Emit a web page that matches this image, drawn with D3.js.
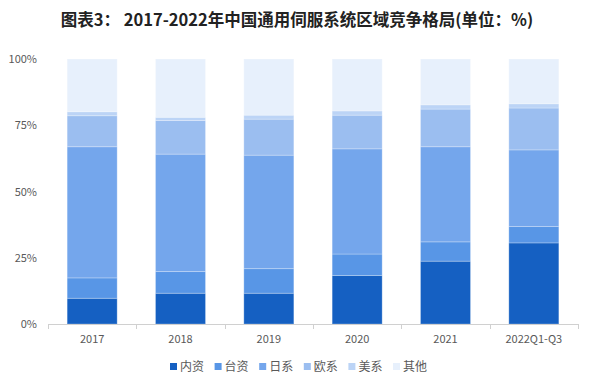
<!DOCTYPE html>
<html><head><meta charset="utf-8">
<script src="https://cdn.jsdelivr.net/npm/d3@7"></script>
<style>body{margin:0;background:#fff;}svg{display:block;font-family:"Microsoft YaHei","Noto Sans CJK SC",sans-serif;}</style>
</head><body><svg id="c" width="593" height="382"></svg>
<script>
const categories = ["2017","2018","2019","2020","2021","2022Q1-Q3"];
const seriesNames = ["内资","台资","日系","欧系","美系","其他"];
const neizi  = [9.7, 11.6, 11.6, 18.3, 23.7, 30.6];
const taizi  = [7.7, 8.2, 9.3, 8.1, 7.3, 6.2];
const rixi   = [49.5, 44.3, 42.8, 39.7, 35.9, 28.9];
const ouxi   = [11.7, 12.7, 13.6, 12.7, 14.2, 15.8];
const meixi  = [1.5, 1.2, 1.5, 1.6, 1.6, 1.6];
const qita   = [19.9, 22.0, 21.2, 19.6, 17.3, 16.9];
const yTicks = [0, 25, 50, 75, 100];
const colors = ["#1560c2","#5896e6","#74a6ec","#9bbef0","#bcd4f6","#e7f0fc"];

const seriesVals = [neizi, taizi, rixi, ouxi, meixi, qita];
const rows = categories.map((c,i)=>{const r={cat:c}; seriesNames.forEach((s,j)=>r[s]=seriesVals[j][i]); return r;});
const stack = d3.stack().keys(seriesNames)(rows);

const svg = d3.select("#c");
const x = d3.scaleBand().domain(categories).range([48,578]).paddingInner(0.434).paddingOuter(0.217);
const y = d3.scaleLinear().domain([0,100]).range([324,59]);

svg.append("text").attr("x",297).attr("y",26).attr("text-anchor","middle")
  .attr("font-size",16.5).attr("font-weight","bold").attr("fill","#222")
  .text("图表3： 2017-2022年中国通用伺服系统区域竞争格局(单位：%)");

const g = svg.append("g");
stack.forEach((layer,j)=>{
  g.selectAll(null).data(layer).enter().append("rect")
    .attr("x",d=>x(d.data.cat)).attr("width",x.bandwidth())
    .attr("y",d=>y(d[1])).attr("height",d=>y(d[0])-y(d[1]))
    .attr("fill",colors[j]).attr("stroke","rgba(255,255,255,0.25)").attr("stroke-width",1);
});

// y axis labels
svg.selectAll(".yl").data(yTicks).enter().append("text")
  .attr("x",37).attr("y",d=>y(d)+4).attr("text-anchor","end")
  .attr("font-size",11).attr("fill","#595959").text(d=>d+"%");

// x axis
const xa = svg.append("g");
xa.append("line").attr("x1",48).attr("x2",578).attr("y1",324.5).attr("y2",324.5).attr("stroke","#d0d0d0");
const bounds = categories.map(c=>x(c)-x.step()*x.paddingInner()/2).concat([578]);
xa.selectAll(".tk").data(bounds).enter().append("line")
  .attr("x1",d=>Math.round(d)+0.5).attr("x2",d=>Math.round(d)+0.5).attr("y1",324).attr("y2",329).attr("stroke","#d0d0d0");
xa.selectAll(".xl").data(categories).enter().append("text")
  .attr("x",d=>x(d)+x.bandwidth()/2).attr("y",343).attr("text-anchor","middle")
  .attr("font-size",11).attr("fill","#595959").text(d=>d);

// legend
const lg = svg.append("g");
seriesNames.forEach((s,j)=>{
  const lx = 170 + j*44.6;
  lg.append("rect").attr("x",lx).attr("y",363).attr("width",7).attr("height",7).attr("fill",colors[j]);
  lg.append("text").attr("x",lx+10).attr("y",371).attr("font-size",12).attr("fill","#595959").text(s);
});
</script></body></html>
